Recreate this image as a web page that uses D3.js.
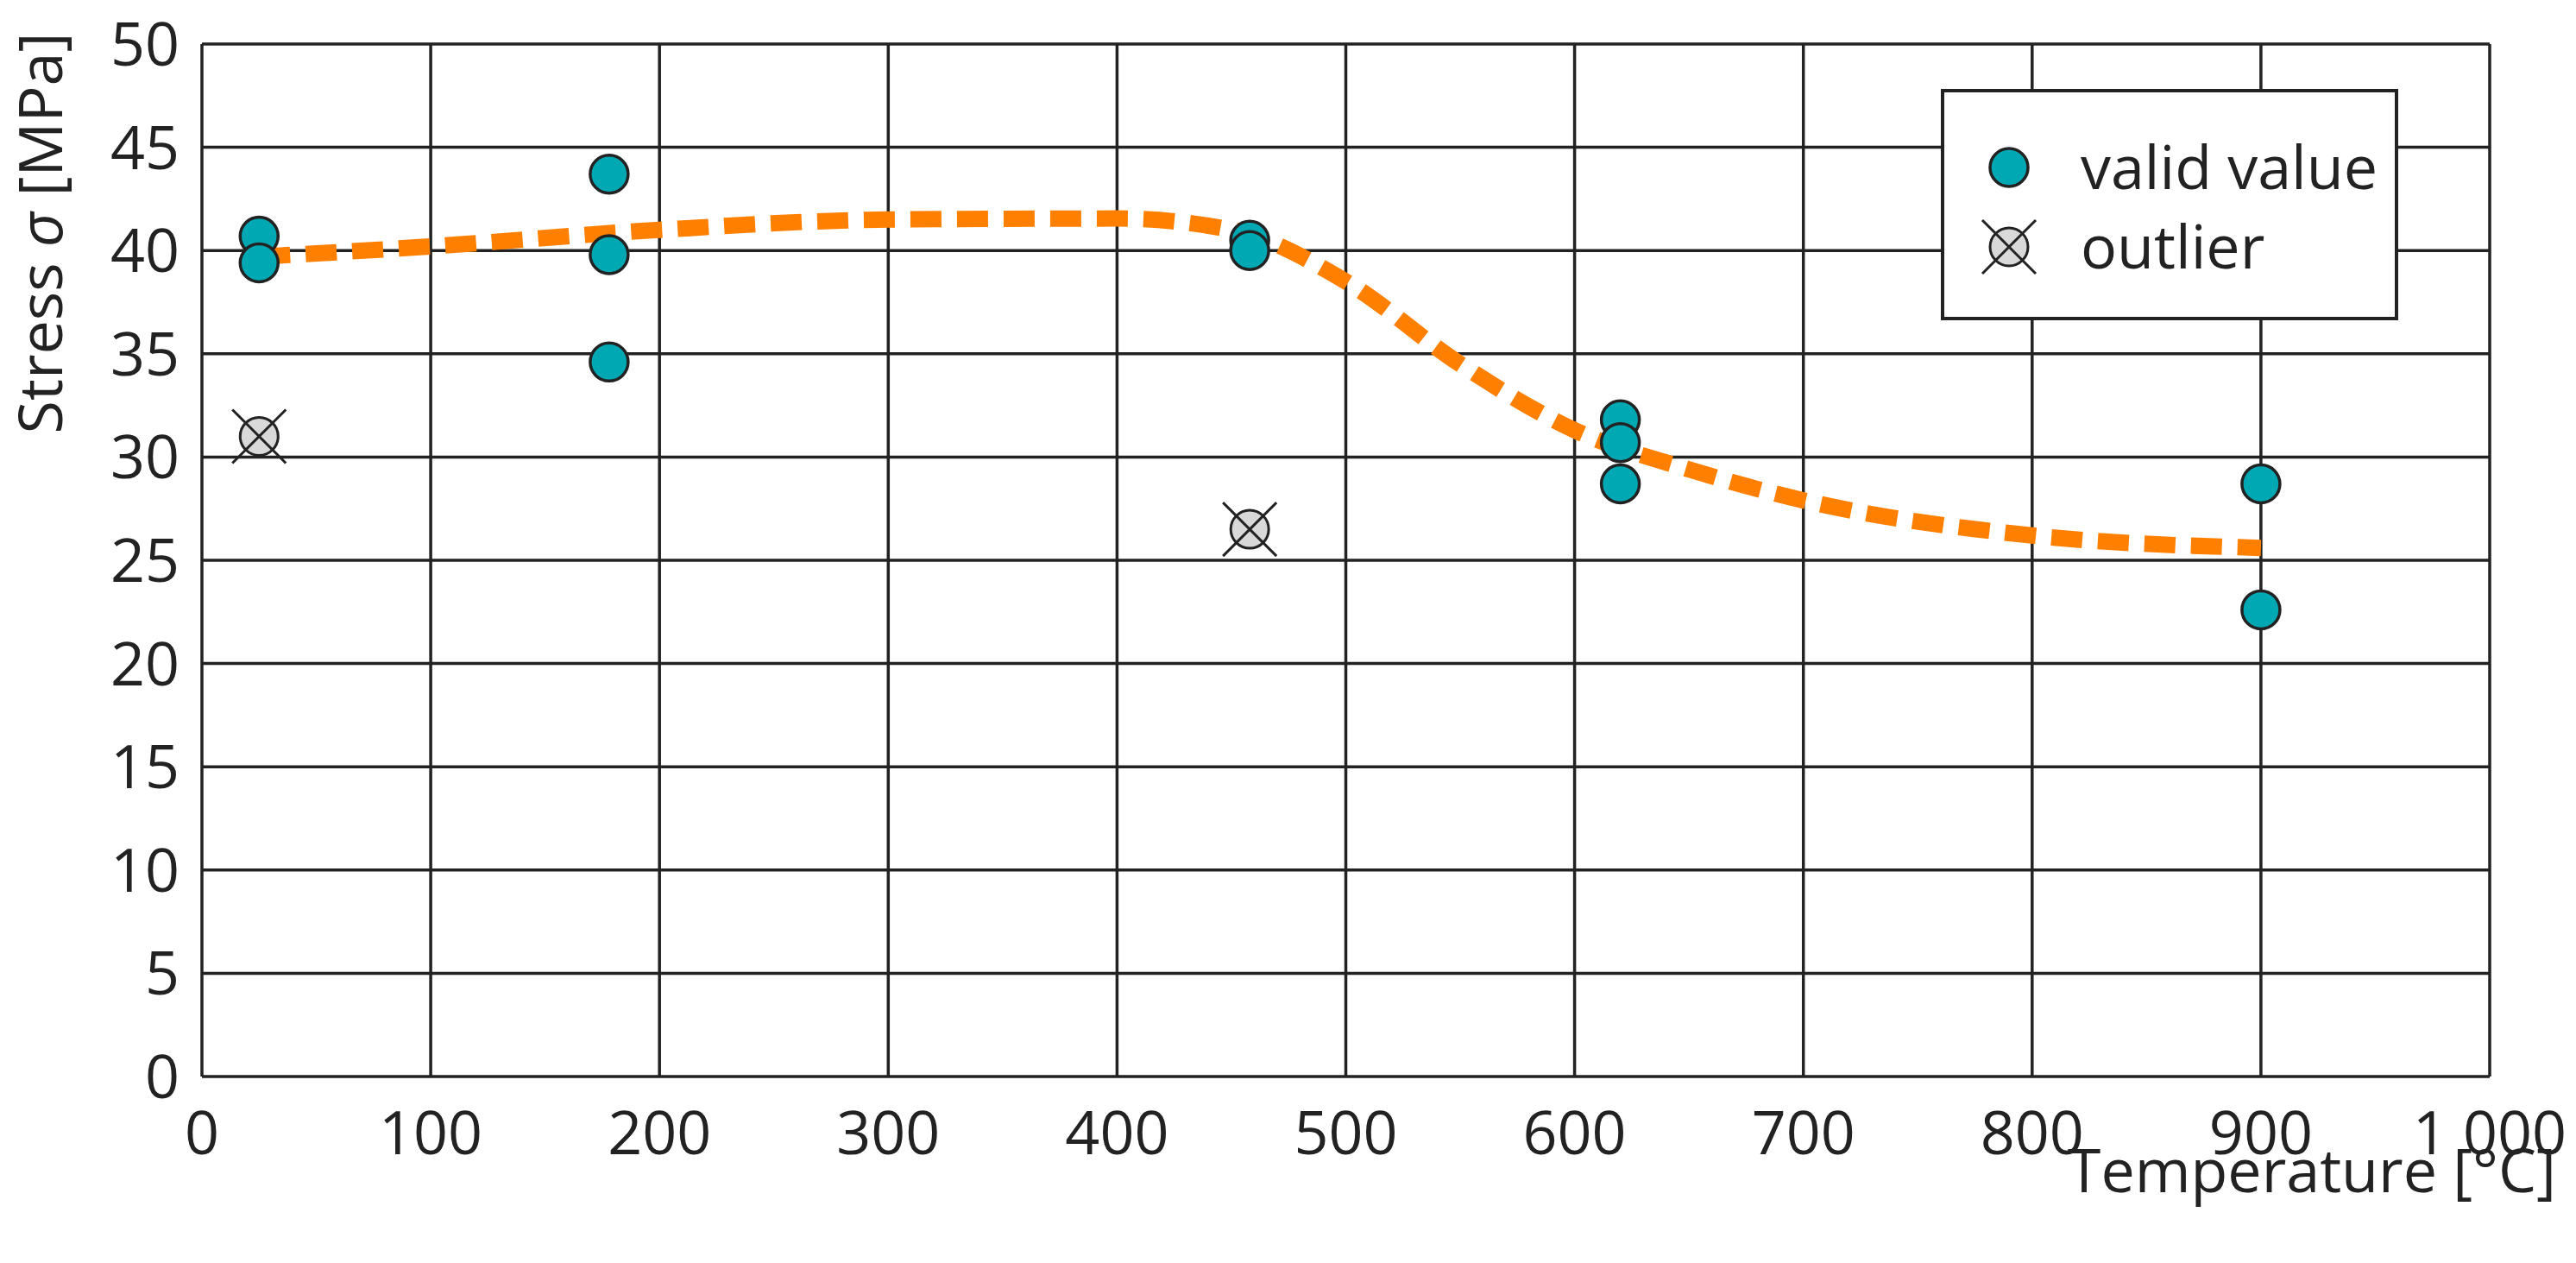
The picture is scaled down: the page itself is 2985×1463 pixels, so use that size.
<!DOCTYPE html>
<html><head><meta charset="utf-8">
<script src="https://cdn.jsdelivr.net/npm/d3@7"></script>
<style>body{margin:0;background:#fff}text{font-family:"Open Sans",sans-serif;fill:#222}</style>
</head><body><svg id="c" width="2985" height="1463"></svg>
<script>
const xTicks=[0,100,200,300,400,500,600,700,800,900,1000];
const yTicks=[0,5,10,15,20,25,30,35,40,45,50];
const validT=[25,25,178,178,178,458,458,620,620,620,900,900];
const validS=[40.7,39.4,43.7,39.8,34.6,40.5,40.0,31.8,30.7,28.7,28.7,22.6];
const outT=[25,458];
const outS=[31.0,26.5];
const trendT=[25,100,200,300,400,450,500,550,600,650,700,800,900];
const trendS=[39.7,40.2,41.0,41.5,41.55,41.0,38.5,34.5,31.3,29.4,27.9,26.2,25.6];

const svg=d3.select("#c");
const L=234,R=2885,T=51,B=1247;
const x=d3.scaleLinear().domain([0,1000]).range([L,R]);
const y=d3.scaleLinear().domain([0,50]).range([B,T]);
const fmt=d=>d===1000?"1 000":String(d);
const FS=70;

const g=svg.append("g");
g.selectAll(".v").data(xTicks).join("line").attr("x1",d=>x(d)).attr("x2",d=>x(d)).attr("y1",T).attr("y2",B).attr("stroke","#222").attr("stroke-width",3.5);
g.selectAll(".h").data(yTicks).join("line").attr("x1",L).attr("x2",R).attr("y1",d=>y(d)).attr("y2",d=>y(d)).attr("stroke","#222").attr("stroke-width",3.5);

svg.selectAll(".xl").data(xTicks).join("text").attr("x",d=>x(d)).attr("y",1337).attr("text-anchor","middle").attr("font-size",FS).text(fmt);
svg.selectAll(".yl").data(yTicks).join("text").attr("x",208).attr("y",d=>y(d)+25).attr("text-anchor","end").attr("font-size",FS).text(d=>d);

svg.append("text").attr("x",2962).attr("y",1381).attr("text-anchor","end").attr("font-size",FS).text("Temperature [°C]");
const yt=svg.append("text").attr("transform","translate(72,270) rotate(-90)").attr("text-anchor","middle").attr("font-size",FS);
yt.append("tspan").text("Stress ");
yt.append("tspan").attr("font-style","italic").text("σ");
yt.append("tspan").text(" [MPa]");

const line=d3.line().x((d,i)=>x(trendT[i])).y(d=>y(d)).curve(d3.curveMonotoneX);
svg.append("path").attr("d",line(trendS)).attr("fill","none").attr("stroke","#ff8000").attr("stroke-width",19).attr("stroke-dasharray","36 18");

function outlier(sel,cx,cy){
  sel.append("circle").attr("cx",cx).attr("cy",cy).attr("r",22).attr("fill","#d9d9d9").attr("stroke","#222").attr("stroke-width",3);
  sel.append("line").attr("x1",cx-31).attr("y1",cy-31).attr("x2",cx+31).attr("y2",cy+31).attr("stroke","#222").attr("stroke-width",3);
  sel.append("line").attr("x1",cx-31).attr("y1",cy+31).attr("x2",cx+31).attr("y2",cy-31).attr("stroke","#222").attr("stroke-width",3);
}
outT.forEach((t,i)=>outlier(svg.append("g"),x(t),y(outS[i])));
svg.selectAll(".pt").data(validS).join("circle").attr("cx",(d,i)=>x(validT[i])).attr("cy",d=>y(d)).attr("r",22).attr("fill","#00a8b4").attr("stroke","#222").attr("stroke-width",3.5);

const lg=svg.append("g");
lg.append("rect").attr("x",2251).attr("y",105).attr("width",526).attr("height",264).attr("fill","#fff").attr("stroke","#222").attr("stroke-width",4);
lg.append("circle").attr("cx",2328).attr("cy",194).attr("r",22).attr("fill","#00a8b4").attr("stroke","#222").attr("stroke-width",3.5);
outlier(lg,2328,286);
lg.append("text").attr("x",2411).attr("y",219).attr("font-size",FS).text("valid value");
lg.append("text").attr("x",2411).attr("y",311).attr("font-size",FS).text("outlier");
</script></body></html>
